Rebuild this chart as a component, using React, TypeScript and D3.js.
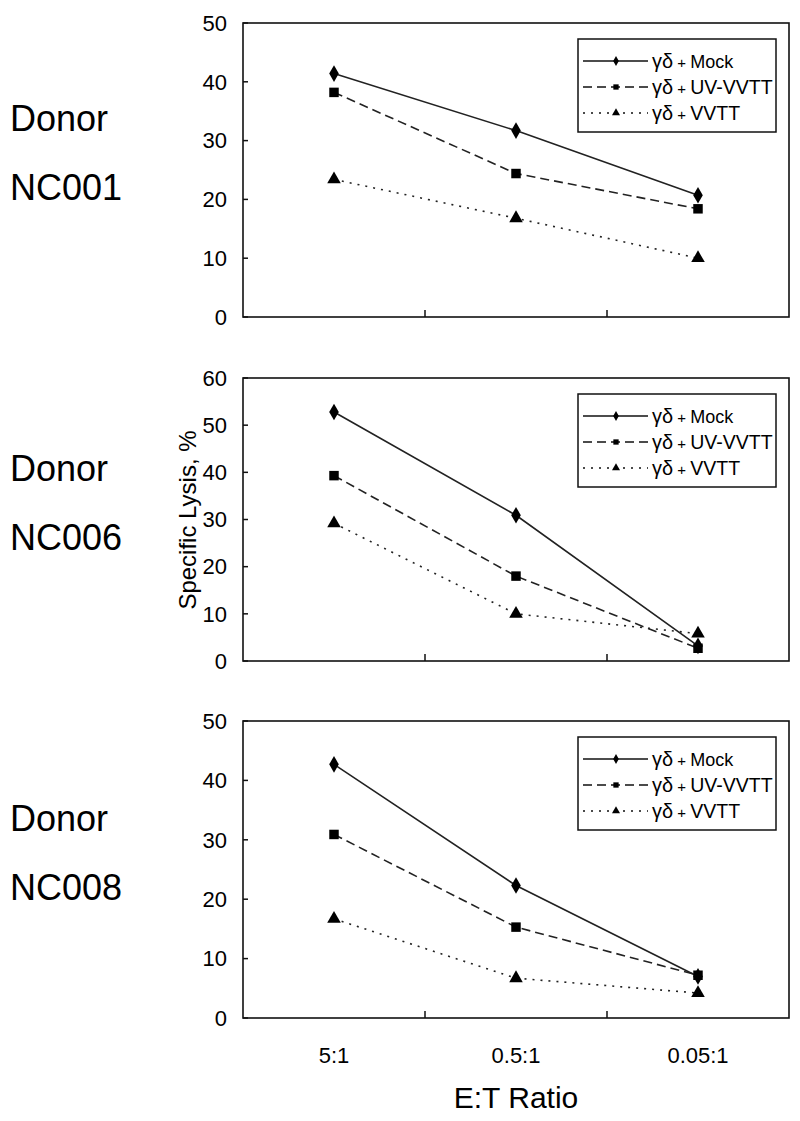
import React from 'react';
import * as d3 from 'd3';

// E:T ratios on the x axis
const ratios = ['5:1', '0.5:1', '0.05:1'];
const donors = ['NC001', 'NC006', 'NC008'];

// specific lysis (%)
const mockNC001 = [41.4, 31.7, 20.7];
const uvNC001 = [38.2, 24.4, 18.4];
const wttNC001 = [23.4, 16.8, 10.0];

const mockNC006 = [52.8, 30.9, 3.2];
const uvNC006 = [39.3, 18.0, 2.7];
const wttNC006 = [29.2, 10.0, 5.8];

const mockNC008 = [42.7, 22.3, 7.0];
const uvNC008 = [30.9, 15.3, 7.2];
const wttNC008 = [16.7, 6.7, 4.2];

const yMaxes = [50, 60, 50];
const seriesNames = ['Mock', 'UV-VVTT', 'VVTT'];

const FONT = '"Liberation Sans", Arial, Helvetica, sans-serif';

const panels = [
  { top: 23, bottom: 317, series: [mockNC001, uvNC001, wttNC001] },
  { top: 378, bottom: 661, series: [mockNC006, uvNC006, wttNC006] },
  { top: 721, bottom: 1018, series: [mockNC008, uvNC008, wttNC008] },
];

const LEFT = 243;
const RIGHT = 789;

const styles = [
  { dash: null, symbol: d3.symbolDiamond, size: 80 },
  { dash: '9,5', symbol: d3.symbolSquare, size: 90 },
  { dash: '2,6', symbol: d3.symbolTriangle, size: 80 },
];

const Panel = ({ idx }: { idx: number }) => {
  const p = panels[idx];
  const x = d3.scaleBand().domain(ratios).range([LEFT, RIGHT]);
  const y = d3.scaleLinear().domain([0, yMaxes[idx]]).range([p.bottom, p.top]);
  const line = d3
    .line<number>()
    .x((_, i) => x(ratios[i])! + x.bandwidth() / 2)
    .y((d) => y(d));
  const midY = (p.top + p.bottom) / 2;
  const lgTop = p.top + 16;
  const lgLeft = 578;
  const lgRight = 776;

  return (
    <g>
      <text x={10} y={midY - 39} fontSize={36} fontFamily={FONT}>
        Donor
      </text>
      <text x={10} y={midY + 30} fontSize={36} fontFamily={FONT}>
        {donors[idx]}
      </text>

      <rect
        x={LEFT}
        y={p.top}
        width={RIGHT - LEFT}
        height={p.bottom - p.top}
        fill="none"
        stroke="#111"
        strokeWidth={1.6}
      />
      {y.ticks(yMaxes[idx] / 10).map((t) => (
        <g key={t}>
          <line x1={LEFT} x2={LEFT + 5} y1={y(t)} y2={y(t)} stroke="#111" strokeWidth={1.5} />
          <text
            x={227}
            y={y(t)}
            dy="0.35em"
            textAnchor="end"
            fontSize={22}
            fontFamily={FONT}
          >
            {t}
          </text>
        </g>
      ))}
      {ratios.slice(1).map((r) => (
        <line
          key={r}
          x1={x(r)}
          x2={x(r)}
          y1={p.bottom}
          y2={p.bottom - 7}
          stroke="#111"
          strokeWidth={1.5}
        />
      ))}

      {p.series.map((vals, si) => (
        <g key={si}>
          <path
            d={line(vals)!}
            fill="none"
            stroke="#222"
            strokeWidth={1.6}
            strokeDasharray={styles[si].dash || undefined}
          />
          {vals.map((v, i) => (
            <path
              key={i}
              d={d3.symbol(styles[si].symbol, styles[si].size)()!}
              transform={`translate(${x(ratios[i])! + x.bandwidth() / 2},${y(v)})`}
              fill="#000"
            />
          ))}
        </g>
      ))}

      <rect
        x={lgLeft}
        y={lgTop}
        width={lgRight - lgLeft}
        height={93}
        fill="#fff"
        stroke="#111"
        strokeWidth={1.5}
      />
      {seriesNames.map((name, si) => {
        const ry = lgTop + 22 + si * 26;
        return (
          <g key={name}>
            <line
              x1={583}
              x2={648}
              y1={ry}
              y2={ry}
              stroke="#111"
              strokeWidth={1.5}
              strokeDasharray={styles[si].dash || undefined}
            />
            <path
              d={d3.symbol(styles[si].symbol, 28)()!}
              transform={`translate(616,${ry})`}
              fill="#000"
            />
            <text x={652} y={ry} dy="0.35em" fontSize={20} fontFamily={FONT}>
              γδ
              <tspan fontSize={15}> + </tspan>
              <tspan fontSize={si === 0 ? 18 : 19.5}>{name}</tspan>
            </text>
          </g>
        );
      })}
    </g>
  );
};

export default function App() {
  const xb = d3.scaleBand().domain(ratios).range([LEFT, RIGHT]);
  return (
    <svg
      width={800}
      height={1121}
      style={{ position: 'absolute', left: 0, top: 0, background: '#fff' }}
    >
      {panels.map((_, i) => (
        <Panel key={i} idx={i} />
      ))}
      {ratios.map((r) => (
        <text
          key={r}
          x={xb(r)! + xb.bandwidth() / 2}
          y={1055}
          dy="0.35em"
          textAnchor="middle"
          fontSize={22}
          fontFamily={FONT}
        >
          {r}
        </text>
      ))}
      <text x={516} y={1108} textAnchor="middle" fontSize={30} fontFamily={FONT}>
        E:T Ratio
      </text>
      <text
        transform="translate(188,520) rotate(-90)"
        textAnchor="middle"
        dy="0.35em"
        fontSize={24}
        fontFamily={FONT}
      >
        Specific Lysis, %
      </text>
    </svg>
  );
}
